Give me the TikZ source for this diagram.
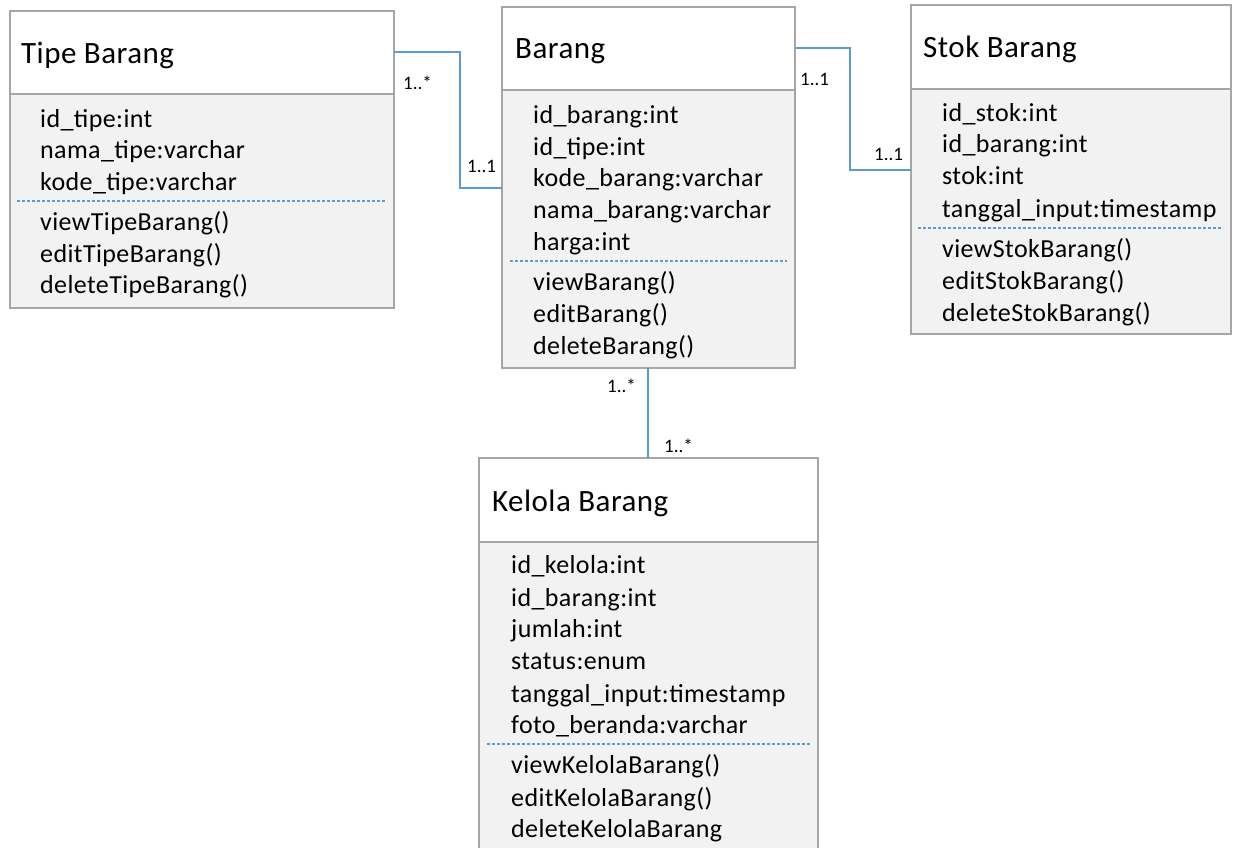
\documentclass[tikz,border=0pt]{standalone}
\usepackage{fontspec}
\setmainfont{Carlito}
\newfontfamily\spaced[LetterSpace=1.5]{Carlito}
\definecolor{linkc}{RGB}{91,155,213}
\definecolor{boxc}{RGB}{166,166,166}
\definecolor{bodyc}{RGB}{242,242,242}
\begin{document}
\begin{tikzpicture}[x=1pt,y=-1pt,
  hdr/.style={draw=boxc,line width=1.5pt,fill=white},
  body/.style={draw=boxc,line width=1.5pt,fill=bodyc},
  title/.style={anchor=base west,inner sep=0pt,font=\spaced\fontsize{31}{36}\selectfont},
  attr/.style={anchor=base west,inner sep=0pt,font=\spaced\fontsize{26}{30}\selectfont},
  mult/.style={anchor=base west,inner sep=0pt,font=\fontsize{19}{22}\selectfont},
  sepline/.style={draw=linkc,line width=1.2pt,dash pattern=on 3pt off 2pt},
  link/.style={draw=linkc,line width=2pt}]
\clip (0,0) rectangle (1233,847);
\fill[white] (0,0) rectangle (1233,847);
% ---------- Tipe Barang
\path[body] (10,94) rectangle (394,308);
\path[hdr] (10,11) rectangle (394,94);
\coordinate (tR) at (394,52);
\node[title] (tT) at (21,63) {Tipe Barang};
\node[attr] (t1) at (40,127) {id\_tipe:int};
\node[attr] (t2) at (40,158) {nama\_tipe:varchar};
\node[attr] (t3) at (40,190) {kode\_tipe:varchar};
\draw[sepline] (17,201) -- (387,201);
\node[attr] (t4) at (40,230) {viewTipeBarang()};
\node[attr] (t5) at (40,262) {editTipeBarang()};
\node[attr] (t6) at (40,293) {deleteTipeBarang()};
% ---------- Barang
\path[body] (502,90) rectangle (795,368);
\path[hdr] (502,7) rectangle (795,90);
\coordinate (bL) at (502,188);
\coordinate (bR) at (795,48);
\coordinate (bB) at (648,368);
\node[title] (bT) at (515,58) {Barang};
\node[attr] at (533,123) {id\_barang:int};
\node[attr] at (533,155) {id\_tipe:int};
\node[attr] at (533,186) {kode\_barang:varchar};
\node[attr] at (533,218) {nama\_barang:varchar};
\node[attr] at (533,250) {harga:int};
\draw[sepline] (510,261) -- (787,261);
\node[attr] at (533,290) {viewBarang()};
\node[attr] at (533,322) {editBarang()};
\node[attr] at (533,354) {deleteBarang()};
% ---------- Stok Barang
\path[body] (911,89) rectangle (1231,334);
\path[hdr] (911,5) rectangle (1231,89);
\coordinate (sL) at (911,170);
\node[title] (sT) at (923,57) {Stok Barang};
\node[attr] at (942,121) {id\_stok:int};
\node[attr] at (942,152) {id\_barang:int};
\node[attr] at (942,184) {stok:int};
\node[attr] at (942,217) {tanggal\_input:timestamp};
\draw[sepline] (918,228) -- (1223,228);
\node[attr] at (942,257) {viewStokBarang()};
\node[attr] at (942,289) {editStokBarang()};
\node[attr] at (942,321) {deleteStokBarang()};
% ---------- Kelola Barang
\path[body] (479,542) rectangle (818,870);
\path[hdr] (479,458) rectangle (818,542);
\coordinate (kT) at (648,458);
\node[title] (kTitle) at (492,511) {Kelola Barang};
\node[attr] at (511,573) {id\_kelola:int};
\node[attr] at (511,606) {id\_barang:int};
\node[attr] at (511,637) {jumlah:int};
\node[attr] at (511,669) {status:enum};
\node[attr] at (511,702) {tanggal\_input:timestamp};
\node[attr] at (511,733) {foto\_beranda:varchar};
\draw[sepline] (487,744) -- (810,744);
\node[attr] at (511,773) {viewKelolaBarang()};
\node[attr] at (511,806) {editKelolaBarang()};
\node[attr] at (511,837) {deleteKelolaBarang};
% ---------- connectors
\draw[link] (tR) -- (460,52) |- (bL);
\draw[link] (bR) -- (850,48) |- (sL);
\draw[link] (bB) -- (kT);
\node[mult] at (403,89) {1..*};
\node[mult] at (467,172) {1..1};
\node[mult] at (800,85) {1..1};
\node[mult] at (874,160) {1..1};
\node[mult] at (607,392) {1..*};
\node[mult] at (664,452) {1..*};
\end{tikzpicture}
\end{document}
